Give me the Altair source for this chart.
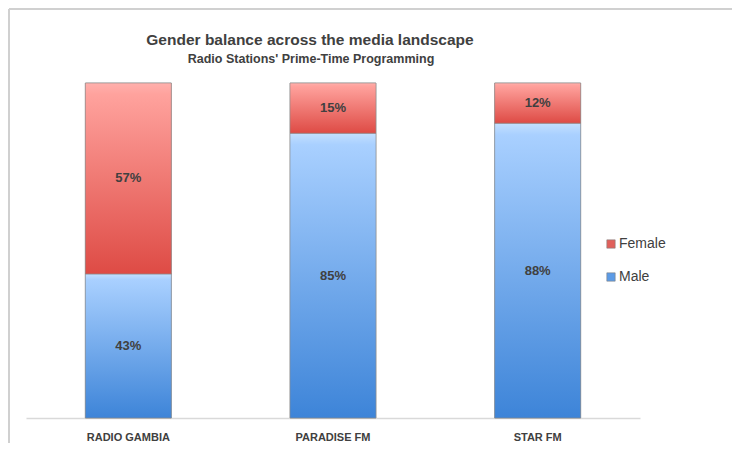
import altair as alt
import pandas as pd

stations = ["RADIO GAMBIA", "PARADISE  FM", "STAR FM"]
female = [57, 15, 12]
male = [43, 85, 88]
genders = ["Female", "Male"]
title_text = "Gender balance across the media landscape"
subtitle_text = "Radio Stations' Prime-Time  Programming"

rows = []
for s, f, m in zip(stations, female, male):
    rows.append({"station": s, "gender": "Male", "value": m, "order": 0})
    rows.append({"station": s, "gender": "Female", "value": f, "order": 1})
df = pd.DataFrame(rows)

red_grad = {"gradient": "linear", "x1": 0, "y1": 0, "x2": 0, "y2": 1,
            "stops": [{"offset": 0, "color": "#FFB0AC"}, {"offset": 0.06, "color": "#FFA29D"},
                      {"offset": 1, "color": "#DE4B45"}]}
blue_grad = {"gradient": "linear", "x1": 0, "y1": 0, "x2": 0, "y2": 1,
             "stops": [{"offset": 0, "color": "#C4E0FF"}, {"offset": 0.04, "color": "#A9D0FF"},
                       {"offset": 1, "color": "#3D84D8"}]}

FONT = "Liberation Sans"

base = alt.Chart(df).transform_stack(
    stack="value", groupby=["station"], as_=["y0", "y1"],
    sort=[alt.SortField("order", order="ascending")]
).transform_calculate(
    mid="(datum.y0 + datum.y1) / 2",
    label="datum.value + '%'"
)

xenc = alt.X("station:N", sort=stations, title=None,
             scale=alt.Scale(paddingInner=0.58, paddingOuter=0.29),
             axis=alt.Axis(labelAngle=0, labelFont=FONT, labelFontSize=11, labelFontWeight="bold",
                           labelColor="#404040", domainColor="#D9D9D9", domainWidth=1.5,
                           ticks=False, labelPadding=13))
yscale = alt.Scale(domain=[0, 100], nice=False)

legend_layer = base.mark_bar(stroke="#8C8C8C", strokeWidth=0.6).encode(
    x=xenc,
    y=alt.Y("y0:Q", scale=yscale, axis=None),
    y2="y1:Q",
    color=alt.Color("gender:N", scale=alt.Scale(domain=genders, range=["#E0605B", "#5C9BE6"]),
                    legend=alt.Legend(title=None, orient="none", legendX=578, legendY=154,
                                      labelFont=FONT, labelFontSize=14, labelColor="#404040",
                                      symbolType="square", symbolSize=70, symbolStrokeColor="#7F7F7F",
                                      symbolStrokeWidth=0.6, rowPadding=19, labelOffset=1)),
)

grad_layer = base.mark_bar(stroke="#8C8C8C", strokeWidth=0.6).encode(
    x=alt.X("station:N", sort=stations),
    y=alt.Y("y0:Q", scale=yscale),
    y2="y1:Q",
    fill=alt.condition(alt.datum.gender == "Female", alt.value(red_grad), alt.value(blue_grad)),
)

text_layer = base.mark_text(font=FONT, fontSize=13, fontWeight="bold", color="#404040").encode(
    x=alt.X("station:N", sort=stations),
    y=alt.Y("mid:Q", scale=yscale),
    text="label:N",
)

frame_df = pd.DataFrame({"a": [0]})
top_line = alt.Chart(frame_df).mark_rule(stroke="#D0D0D0", strokeWidth=2).encode(
    x=alt.value(-17), x2=alt.value(720), y=alt.value(-74)
)
left_line = alt.Chart(frame_df).mark_rule(stroke="#D0D0D0", strokeWidth=2).encode(
    x=alt.value(-17), y=alt.value(-74), y2=alt.value(360)
)

title_mark = alt.Chart(pd.DataFrame({"t": [title_text]})).mark_text(
    font=FONT, fontSize=15.5, fontWeight="bold", color="#404040", baseline="middle"
).encode(x=alt.value(284), y=alt.value(-43), text="t:N")

subtitle_mark = alt.Chart(pd.DataFrame({"t": [subtitle_text]})).mark_text(
    font=FONT, fontSize=12.5, fontWeight="bold", color="#404040", baseline="middle"
).encode(x=alt.value(285), y=alt.value(-24), text="t:N")

chart = alt.layer(top_line, left_line, legend_layer, grad_layer, text_layer,
                  title_mark, subtitle_mark).properties(
    width=614, height=335,
    autosize=alt.AutoSizeParams(type="none"),
    padding={"left": 18, "top": 75, "right": 92, "bottom": 27},
).configure_view(stroke=None)

chart.save("out.html", embed_options={"renderer": "svg", "actions": False})
